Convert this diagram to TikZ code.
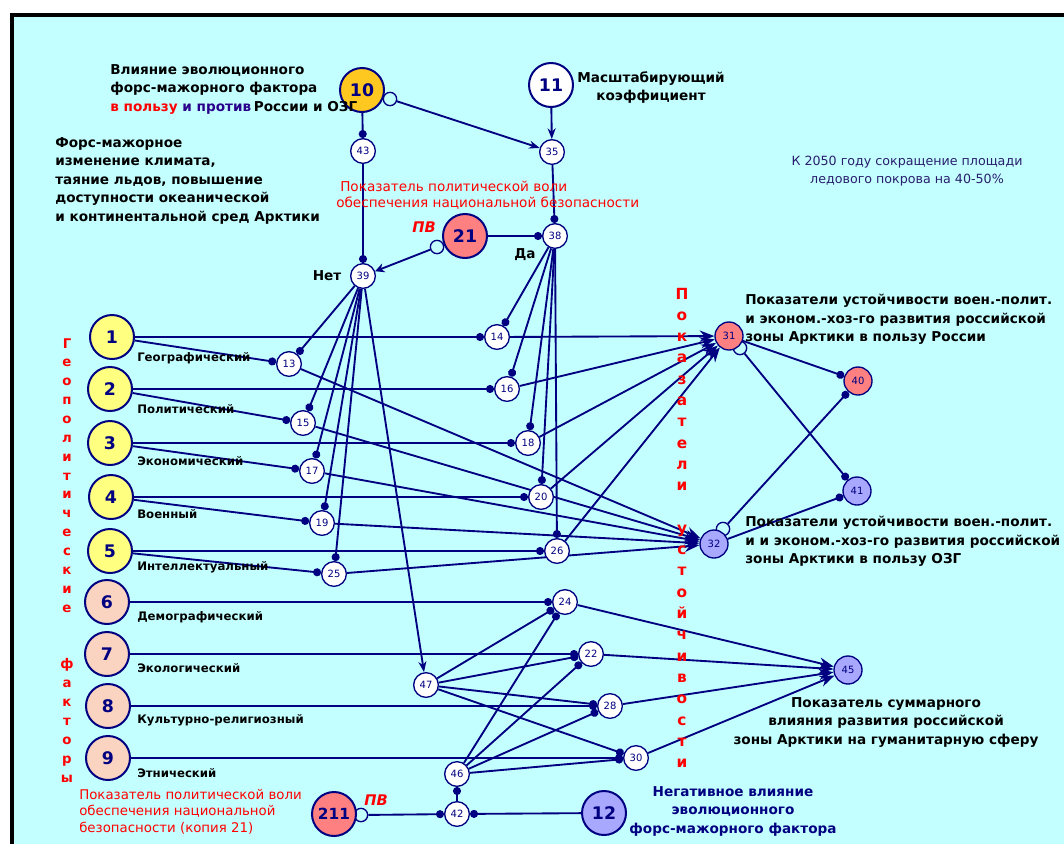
\documentclass[tikz,border=0pt]{standalone}
\usepackage{fontspec}
\setmainfont{DejaVu Sans}
\usetikzlibrary{arrows.meta}
\pgfdeclarelayer{back}
\pgfdeclarelayer{edges}
\pgfsetlayers{back,edges,main}
\definecolor{bg}{RGB}{196,255,255}
\definecolor{navy}{RGB}{0,0,128}
\definecolor{yel}{RGB}{255,255,128}
\definecolor{peach}{RGB}{250,212,192}
\definecolor{salmon}{RGB}{255,128,128}
\definecolor{gold}{RGB}{255,200,32}
\definecolor{lav}{RGB}{168,168,255}
\definecolor{rd}{RGB}{255,0,0}
\definecolor{pur}{RGB}{40,0,140}
\definecolor{dnavy}{RGB}{40,30,110}
\newcommand\myfs[2]{\fontsize{#1}{#2}\selectfont}
\tikzset{
 bignode/.style={circle,draw=navy,line width=1.5pt,minimum size=33pt,inner sep=0pt,text=navy,font=\bfseries\myfs{13}{15}},
 smallnode/.style={circle,draw=navy,line width=1pt,fill=white,minimum size=18.5pt,inner sep=0pt,text=navy,font=\myfs{7.5}{9}},
 midnode/.style={circle,draw=navy,line width=1pt,minimum size=21pt,inner sep=0pt,text=navy,font=\myfs{7.5}{9}},
 inv/.style={circle,draw=navy,line width=1pt,fill=bg,minimum size=10pt,inner sep=0pt},
 conn/.style={navy,line width=1.4pt},
 dot/.style={-{Circle[length=6pt]}},
 arr/.style={-{Stealth[length=11pt,width=8.5pt]}},
 varr/.style={-{Stealth[length=8pt,width=6pt]}},
 blk/.style={font=\bfseries\myfs{10.2}{13.9},inner sep=0pt,align=left},
 fac/.style={font=\bfseries\myfs{8.8}{10},inner sep=0pt,anchor=west},
 redt/.style={text=rd,font=\myfs{10.2}{12.2},inner sep=0pt},
 vletL/.style={text=rd,font=\bfseries\myfs{10}{12},inner sep=0pt,anchor=base},
 vletR/.style={text=rd,font=\bfseries\myfs{11.5}{14},inner sep=0pt,anchor=base},
 pv/.style={text=rd,font=\bfseries\itshape\myfs{11}{12},inner sep=0pt}
}
\begin{document}
\begin{tikzpicture}[x=0.75pt,y=-0.75pt]
\useasboundingbox (0,0) rectangle (1064,843);
\begin{pgfonlayer}{back}
\fill[white] (0,0) rectangle (1064,843);
\fill[bg] (12,15) rectangle (1070,850);
\draw[line width=3pt] (12,860) -- (12,15) -- (1080,15);
\end{pgfonlayer}

% small inverter circles
\node[inv] (s10) at (390,99) {};
\node[inv] (s21) at (437,247) {};
\node[inv] (s211) at (361,815) {};
\node[inv] (s31) at (740,348) {};
\node[inv] (s32) at (723,529) {};

% big nodes
\node[bignode,fill=gold] (n10) at (362,90) {10};
\node[bignode,fill=white] (n11) at (551,85) {11};
\node[bignode,fill=salmon] (n21) at (465,236) {21};
\node[bignode,fill=salmon,font=\bfseries\myfs{11.5}{13}] (n211) at (334,814) {211};
\node[bignode,fill=lav] (n12) at (604,813) {12};
\node[bignode,fill=yel] (n1) at (112,337) {1};
\node[bignode,fill=yel] (n2) at (110,389) {2};
\node[bignode,fill=yel] (n3) at (110,443) {3};
\node[bignode,fill=yel] (n4) at (111,497) {4};
\node[bignode,fill=yel] (n5) at (110,551) {5};
\node[bignode,fill=peach] (n6) at (107,602) {6};
\node[bignode,fill=peach] (n7) at (107,654) {7};
\node[bignode,fill=peach] (n8) at (108,706) {8};
\node[bignode,fill=peach] (n9) at (108,758) {9};

% small nodes
\node[smallnode] (n43) at (363,151) {43};
\node[smallnode] (n35) at (552,152) {35};
\node[smallnode] (n38) at (555,236) {38};
\node[smallnode] (n39) at (363,276) {39};
\node[smallnode] (n13) at (289,364) {13};
\node[smallnode] (n14) at (497,337) {14};
\node[smallnode] (n15) at (303,423) {15};
\node[smallnode] (n16) at (507,389) {16};
\node[smallnode] (n17) at (312,471) {17};
\node[smallnode] (n18) at (528,443) {18};
\node[smallnode] (n19) at (322,523) {19};
\node[smallnode] (n20) at (541,497) {20};
\node[smallnode] (n25) at (334,574) {25};
\node[smallnode] (n26) at (557,551) {26};
\node[smallnode] (n24) at (565,602) {24};
\node[smallnode] (n22) at (591,654) {22};
\node[smallnode] (n28) at (610,706) {28};
\node[smallnode] (n30) at (636,758) {30};
\node[smallnode] (n47) at (426,685) {47};
\node[smallnode] (n46) at (457,774) {46};
\node[smallnode] (n42) at (457,814) {42};
\node[midnode,fill=salmon] (n31) at (729,336) {31};
\node[midnode,fill=lav] (n32) at (714,544) {32};
\node[midnode,fill=salmon] (n40) at (858,381) {40};
\node[midnode,fill=lav] (n41) at (857,491) {41};
\node[midnode,fill=lav] (n45) at (848,670) {45};

% connectors
\begin{pgfonlayer}{edges}
\draw[conn,dot] (n10) -- (n43);
\draw[conn,varr] (s10) -- (n35);
\draw[conn,varr] (n11) -- (n35);
\draw[conn,dot] (n35) -- (n38);
\draw[conn,dot] (n43) -- (n39);
\draw[conn,dot] (n21) -- (n38);
\draw[conn,-{Stealth[length=7pt,width=7pt]}] (s21) -- (n39);
\foreach \t in {13,15,17,19,25} \draw[conn,dot] (n39) -- (n\t);
\draw[conn,varr] (n39) -- (n47);
\foreach \t in {14,16,18,20,26} \draw[conn,dot] (n38) -- (n\t);
\draw[conn,dot] (n1) -- (n14);
\draw[conn,dot] (n1) -- (n13);
\draw[conn,dot] (n2) -- (n16);
\draw[conn,dot] (n2) -- (n15);
\draw[conn,dot] (n3) -- (n18);
\draw[conn,dot] (n3) -- (n17);
\draw[conn,dot] (n4) -- (n20);
\draw[conn,dot] (n4) -- (n19);
\draw[conn,dot] (n5) -- (n26);
\draw[conn,dot] (n5) -- (n25);
\foreach \t in {14,16,18,20,26} \draw[conn,arr] (n\t) -- (n31);
\foreach \t in {13,15,17,19,25} \draw[conn,arr] (n\t) -- (n32);
\draw[conn,dot] (n6) -- (n24);
\draw[conn,dot] (n7) -- (n22);
\draw[conn,dot] (n8) -- (n28);
\draw[conn,dot] (n9) -- (n30);
\foreach \t in {24,22,28,30} {
  \draw[conn,dot] (n47) -- (n\t);
  \draw[conn,dot] (n46) -- (n\t);
  \draw[conn,arr] (n\t) -- (n45);
}
\draw[conn,dot] (n42) -- (n46);
\draw[conn,dot] (s211) -- (n42);
\draw[conn,dot] (n12) -- (n42);
\draw[conn,dot] (n31) -- (n40);
\draw[conn,dot] (s31) -- (n41);
\draw[conn,dot] (s32) -- (n40);
\draw[conn,dot] (n32) -- (n41);
\end{pgfonlayer}

% texts
\node[blk,anchor=north west] (t1) at (110,64) {Влияние эволюционного\\форс-мажорного фактора\\{\color{rd}в пользу} {\color{pur}и против}\hspace{2pt}России и ОЗГ};
\node[blk,anchor=north west] (t2) at (55,137) {Форс-мажорное\\изменение климата,\\таяние льдов, повышение\\доступности океанической\\и континентальной сред Арктики};
\node[blk,align=center,anchor=north] (t3) at (651,71) {Масштабирующий\\коэффициент};
\node[redt,align=left,anchor=north west] (t4) at (336,181) {\hspace{3pt}Показатель политической воли\\обеспечения национальной безопасности};
\node[text=dnavy,font=\myfs{9.5}{13.5},inner sep=0pt,align=center,anchor=north] (t5) at (907,156) {К 2050 году сокращение площади\\ледового покрова на 40-50\%};
\node[blk,anchor=north west] (t6) at (745,294) {Показатели устойчивости воен.-полит.\\и эконом.-хоз-го развития российской\\зоны Арктики в пользу России};
\node[blk,anchor=north west] (t7) at (745,516) {Показатели устойчивости воен.-полит.\\и и эконом.-хоз-го развития российской\\зоны Арктики в пользу ОЗГ};
\node[blk,align=center,anchor=north] (t8) at (886,697) {Показатель суммарного\\влияния развития российской\\зоны Арктики на гуманитарную сферу};
\node[blk,text=navy,align=center,anchor=north] (t9) at (733,786) {Негативное влияние\\эволюционного\\форс-мажорного фактора};
\node[redt,align=left,anchor=north west,font=\myfs{10}{12.4}] (t10) at (79,789) {Показатель политической воли\\обеспечения национальной\\безопасности (копия 21)};
\node[blk] (tnet) at (327,276) {Нет};
\node[blk] (tda) at (525,255) {Да};
\node[pv] (pv1) at (424,227) {ПВ};
\node[pv] (pv2) at (376,800) {ПВ};

\node[fac] (f1) at (137,358) {Географический};
\node[fac] (f2) at (137,409) {Политический};
\node[fac] (f3) at (137,461) {Экономический};
\node[fac] (f4) at (137,514) {Военный};
\node[fac] (f5) at (137,567) {Интеллектуальный};
\node[fac] (f6) at (137,617) {Демографический};
\node[fac] (f7) at (137,668) {Экологический};
\node[fac] (f8) at (137,720) {Культурно-религиозный};
\node[fac] (f9) at (137,773) {Этнический};

\foreach \c [count=\i from 0] in {Г,е,о,п,о,л,и,т,и,ч,е,с,к,и,е}
  \node[vletL] (gl\i) at (67,{348+\i*18.87}) {\c};
\foreach \c [count=\i from 17] in {ф,а,к,т,о,р,ы}
  \node[vletL] (gl\i) at (67,{348+\i*18.87}) {\c};
\foreach \c [count=\i from 0] in {П,о,к,а,з,а,т,е,л,и}
  \node[vletR] (pr\i) at (682,{299+\i*21.3}) {\c};
\foreach \c [count=\i from 11] in {у,с,т,о,й,ч,и,в,о,с,т,и}
  \node[vletR] (pr\i) at (682,{299+\i*21.3}) {\c};
\end{tikzpicture}
\end{document}
